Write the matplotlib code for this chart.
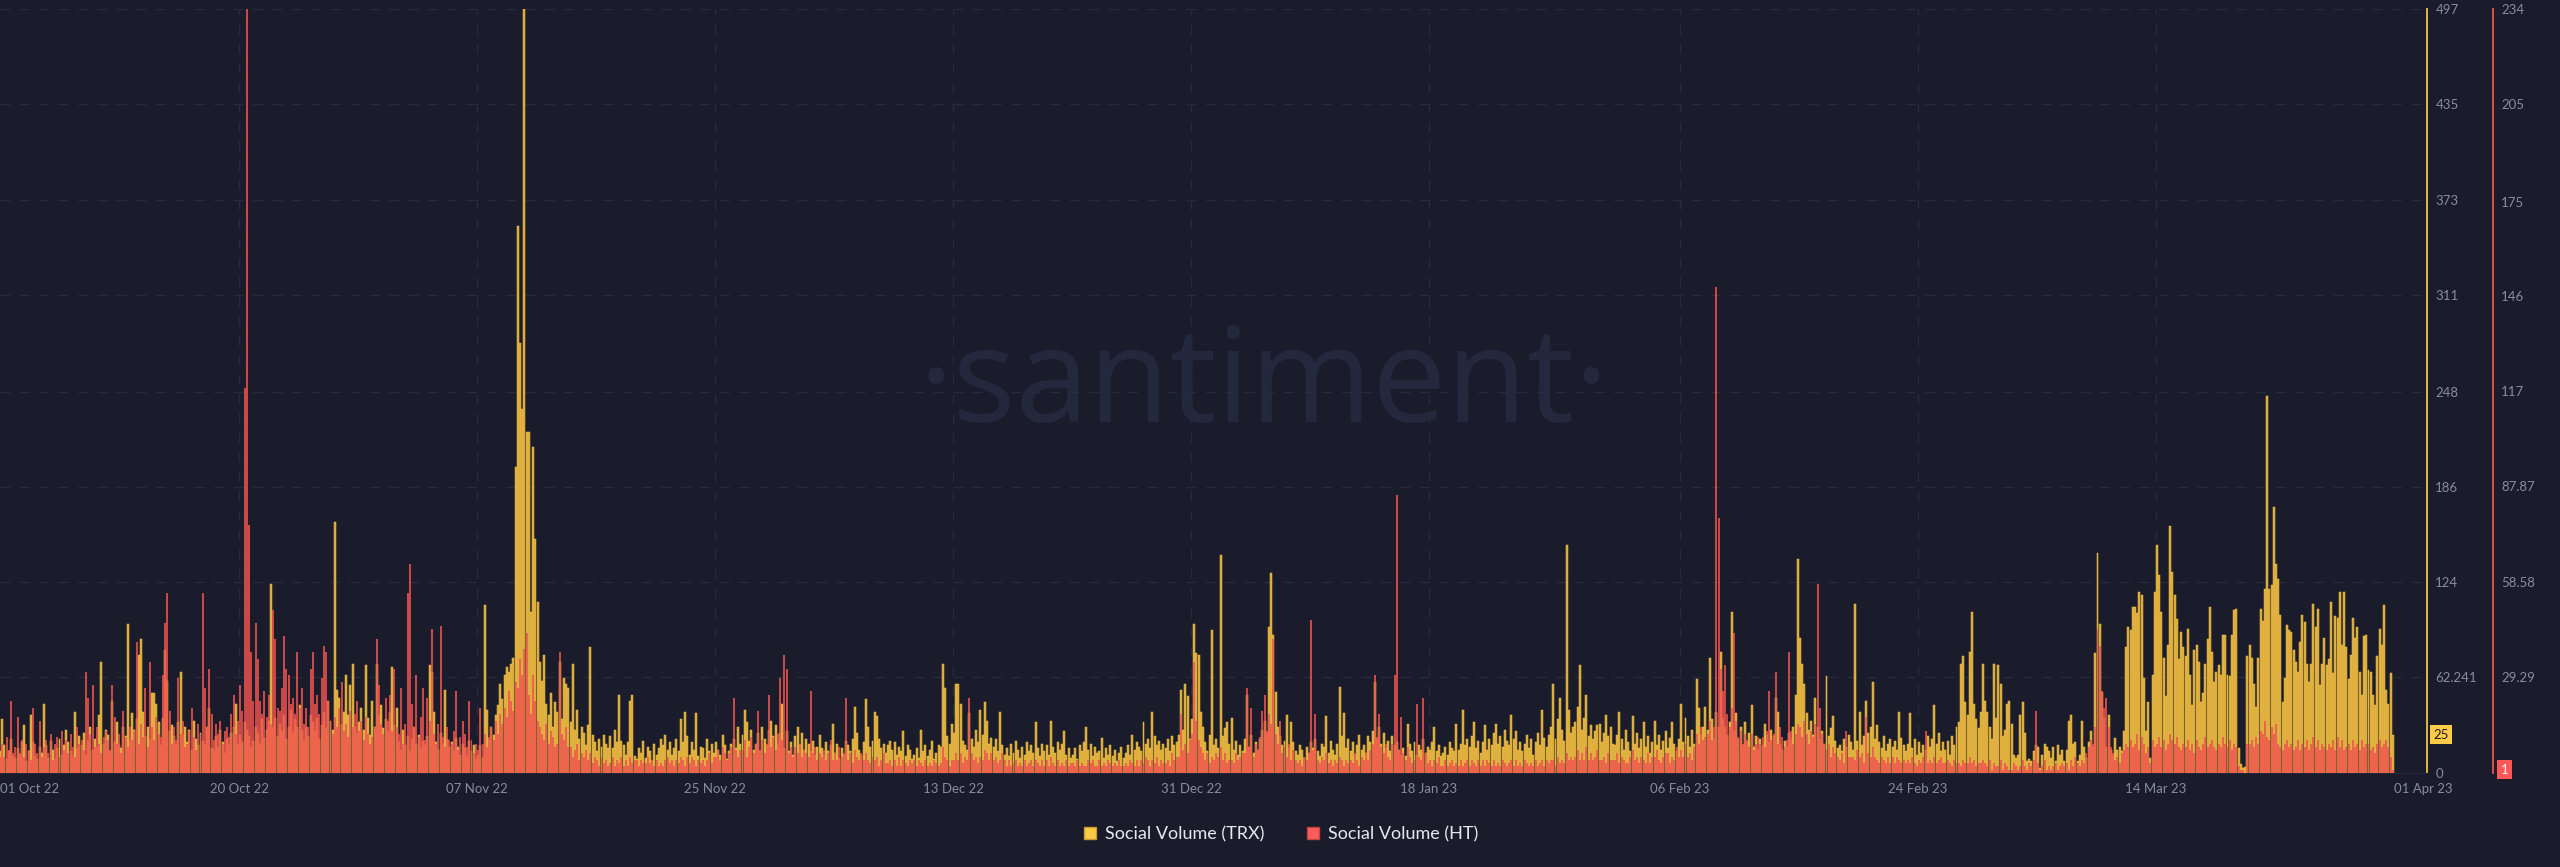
import numpy as np
import pandas as pd
import matplotlib
matplotlib.use("Agg")
import matplotlib.pyplot as plt
import matplotlib.dates as mdates
from matplotlib.lines import Line2D

# Social volume, 4-hour buckets, one row per day (6 values)
trx_oct = [
    12, 8, 15, 20, 10, 14,
    35, 18, 9, 14, 22, 11,
    10, 16, 12, 20, 31, 8,
    14, 38, 20, 11, 9, 17,
    13, 45, 18, 10, 21, 15,
    9, 16, 22, 12, 18, 28,
    20, 14, 11, 40, 16, 24,
    18, 26, 12, 21, 30, 15,
    22, 17, 38, 72, 19, 28,
    25, 14, 47, 20, 33, 18,
    16, 30, 24, 97, 21, 39,
    28, 35, 77, 87, 40, 24,
    30, 22, 52, 52, 45, 33,
    18, 36, 80, 60, 27, 31,
    24, 19, 33, 66, 25, 30,
    20, 28, 15, 34, 22, 18,
    26, 21, 19, 30, 42, 16,
    15, 24, 17, 28, 20, 13,
    22, 18, 26, 30, 45, 19,
    25, 20, 33, 28, 24, 17,
    21, 30, 26, 19, 35, 23,
    28, 34, 123, 30, 36, 24,
    32, 27, 38, 22, 30, 41,
    26, 35, 30, 44, 28, 21,
    30, 24, 38, 33, 27, 36,
    22, 31, 40, 29, 47, 34,
    28, 163, 54, 49, 32, 40,
    64, 38, 57, 71, 30, 26,
    33, 42, 28, 70, 36, 25,
    47, 30, 71, 38, 44, 29,
    35, 27, 40, 69, 31, 42,
]
trx_nov = [
    20, 15, 28, 18, 24, 14,
    22, 30, 19, 25, 16, 21,
    18, 24, 70, 66, 40, 20,
    15, 26, 19, 54, 22, 17,
    20, 14, 23, 17, 12, 19,
    16, 11, 21, 14, 18, 9,
    12, 18, 10, 109, 41, 22,
    30, 25, 38, 44, 58, 48,
    64, 69, 66, 71, 75, 199,
    356, 280, 237, 497, 222, 222,
    105, 212, 152, 111, 72, 60,
    77, 45, 38, 52, 30, 46,
    40, 72, 35, 62, 58, 55,
    33, 71, 28, 41, 22, 30,
    26, 18, 31, 82, 25, 20,
    14, 22, 17, 25, 19, 16,
    24, 16, 28, 20, 51, 21,
    18, 12, 20, 47, 51, 11,
    9, 16, 13, 21, 10, 17,
    14, 8, 19, 12, 16, 22,
    18, 25, 15, 20, 12, 16,
    22, 14, 35, 20, 40, 24,
    12, 20, 15, 39, 11, 17,
    16, 10, 22, 14, 19, 13,
    20, 15, 12, 25, 18, 9,
    14, 19, 22, 16, 30, 19,
    25, 41, 33, 21, 28, 15,
    19, 26, 14, 30, 22, 18,
    28, 34, 24, 31, 19, 26,
    45, 16, 27, 14, 20, 12,
]
trx_dec = [
    24, 30, 18, 26, 15, 22,
    19, 14, 21, 12, 17, 25,
    16, 11, 20, 14, 18, 32,
    13, 19, 10, 16, 12, 21,
    18, 14, 22, 43, 26, 15,
    12, 20, 48, 30, 17, 21,
    40, 37, 22, 16, 19, 13,
    18, 21, 15, 20, 12, 17,
    14, 27, 11, 18, 15, 9,
    12, 16, 10, 28, 14, 18,
    11, 15, 21, 9, 13, 18,
    17, 71, 55, 24, 19, 32,
    26, 58, 58, 45, 21, 18,
    15, 39, 22, 17, 28, 20,
    41, 25, 46, 34, 19, 23,
    17, 22, 14, 40, 18, 12,
    16, 11, 19, 13, 21, 15,
    10, 17, 12, 20, 14, 18,
    13, 33, 16, 11, 19, 14,
    18, 12, 34, 17, 13, 20,
    15, 19, 27, 12, 16, 10,
    12, 16, 9, 18, 14, 20,
    30, 15, 19, 11, 17, 13,
    14, 23, 10, 16, 12, 18,
    11, 15, 8, 13, 17, 10,
    13, 18, 12, 25, 15, 20,
    17, 14, 33, 19, 22, 16,
    40, 24, 18, 21, 15, 19,
    16, 22, 14, 24, 18, 20,
    25, 54, 28, 58, 50, 22,
    35, 97, 78, 77, 40, 30,
]
trx_jan = [
    20, 14, 25, 93, 18, 22,
    16, 142, 24, 29, 33, 19,
    36, 15, 21, 12, 18, 14,
    22, 51, 17, 25, 13, 20,
    15, 22, 28, 34, 26, 95,
    130, 90, 53, 30, 24, 18,
    21, 38, 16, 33, 20, 14,
    12, 18, 15, 10, 17, 13,
    20, 16, 22, 14, 11, 19,
    17, 37, 13, 21, 15, 12,
    19, 56, 24, 39, 16, 22,
    14, 20, 12, 18, 25, 15,
    18, 13, 24, 20, 27, 59,
    22, 30, 19, 26, 16, 21,
    14, 24, 18, 20, 15, 12,
    16, 11, 32, 19, 14, 20,
    12, 18, 15, 22, 13, 17,
    15, 20, 30, 14, 18, 11,
    13, 17, 12, 20, 16, 14,
    32, 15, 19, 41, 18, 22,
    17, 24, 33, 16, 21, 13,
    20, 31, 15, 22, 18, 26,
    32, 19, 24, 17, 28, 21,
    18, 38, 22, 27, 15, 20,
    14, 19, 25, 16, 22, 12,
    20, 26, 18, 41, 23, 17,
    25, 30, 58, 22, 35, 49,
    28, 21, 148, 41, 26, 30,
    33, 43, 70, 28, 36, 51,
    24, 31, 22, 27, 31, 32,
    20, 26, 38, 24, 30, 19,
]
trx_feb = [
    18, 25, 40, 22, 15, 28,
    20, 14, 37, 19, 26, 16,
    22, 33, 17, 24, 13, 20,
    34, 18, 25, 15, 21, 27,
    16, 23, 33, 19, 14, 22,
    45, 20, 36, 24, 17, 28,
    19, 61, 42, 25, 30, 43,
    28, 75, 35, 22, 40, 30,
    79, 36, 30, 25, 33, 105,
    27, 39, 22, 30, 18, 33,
    20, 26, 44, 17, 24, 15,
    22, 18, 32, 25, 20, 28,
    24, 49, 40, 19, 15, 21,
    17, 26, 22, 30, 51, 139,
    88, 71, 58, 39, 28, 34,
    25, 49, 30, 22, 27, 19,
    63, 24, 29, 37, 21, 16,
    18, 14, 22, 17, 25, 20,
    15, 110, 21, 40, 18, 24,
    47, 26, 30, 59, 22, 31,
    20, 16, 24, 14, 19, 22,
    17, 21, 15, 40, 23, 18,
    14, 19, 39, 16, 22, 12,
    20, 13, 18, 15, 24, 17,
    22, 44, 19, 26, 14, 20,
    15, 21, 12, 24, 18, 30,
    33, 71, 76, 46, 38, 79,
    105, 45, 35, 29, 40, 71,
]
trx_mar = [
    47, 40, 30, 22, 71, 36,
    70, 58, 24, 28, 45, 47,
    32, 12, 10, 12, 38, 46,
    26, 8, 9, 8, 14, 18,
    17, 3, 12, 19, 17, 14,
    10, 17, 8, 18, 12, 15,
    8, 15, 34, 38, 19, 20,
    8, 12, 34, 17, 10, 20,
    27, 17, 78, 143, 97, 53,
    36, 17, 38, 15, 12, 23,
    15, 17, 14, 27, 82, 95,
    93, 108, 108, 104, 118, 116,
    62, 27, 46, 10, 64, 118,
    148, 129, 105, 75, 50, 83,
    161, 131, 116, 100, 74, 92,
    82, 76, 94, 64, 44, 80,
    83, 72, 46, 52, 71, 87,
    108, 79, 59, 66, 70, 64,
    90, 90, 64, 63, 90, 106,
    107, 16, 6, 3, 4, 76,
    83, 75, 58, 43, 75, 107,
    99, 120, 245, 120, 122, 173,
    136, 126, 103, 46, 62, 96,
    93, 92, 80, 72, 66, 85,
    103, 98, 71, 59, 71, 110,
    95, 107, 57, 71, 88, 70,
    74, 111, 65, 102, 101, 118,
    83, 118, 82, 61, 77, 101,
    88, 95, 66, 51, 89, 90,
    67, 66, 51, 44, 76, 94,
    83, 109, 54, 45, 65, 25,
]

ht_oct = [
    6, 10, 4, 8, 12, 5,
    9, 5, 11, 7, 22, 6,
    8, 17, 6, 10, 5, 9,
    7, 4, 20, 9, 6, 16,
    5, 8, 10, 6, 12, 4,
    9, 11, 5, 13, 7, 10,
    6, 12, 8, 5, 14, 9,
    10, 7, 31, 23, 12, 27,
    8, 14, 9, 6, 11, 13,
    10, 7, 27, 17, 9, 12,
    6, 19, 11, 8, 14, 10,
    13, 40, 9, 15, 11, 26,
    8, 34, 14, 10, 17, 12,
    11, 30, 46, 55, 19, 9,
    14, 10, 29, 12, 16, 8,
    9, 13, 20, 11, 7, 15,
    12, 55, 26, 14, 32, 18,
    10, 15, 12, 16, 9, 13,
    14, 11, 18, 24, 12, 16,
    27, 19, 118, 234, 76, 37,
    22, 46, 35, 22, 18, 25,
    17, 24, 15, 50, 41, 20,
    19, 26, 42, 32, 30, 21,
    23, 18, 37, 20, 26, 15,
    20, 14, 32, 37, 21, 24,
    18, 29, 39, 37, 22, 16,
    12, 17, 14, 20, 28, 13,
    15, 11, 19, 14, 18, 22,
    13, 16, 10, 17, 12, 9,
    11, 14, 41, 27, 15, 12,
    23, 16, 24, 13, 32, 14,
]
ht_nov = [
    12, 26, 9, 15, 55, 64,
    21, 14, 30, 11, 17, 26,
    10, 23, 16, 44, 12, 9,
    15, 45, 11, 8, 14, 10,
    9, 13, 25, 7, 11, 16,
    12, 8, 22, 10, 6, 9,
    7, 20, 9, 12, 8, 11,
    14, 10, 16, 12, 18, 15,
    20, 17, 25, 22, 19, 28,
    26, 35, 30, 38, 43, 24,
    18, 30, 22, 16, 14, 12,
    10, 15, 9, 13, 11, 8,
    9, 37, 12, 10, 14, 8,
    8, 5, 7, 9, 4, 6,
    5, 7, 4, 6, 3, 5,
    4, 2, 5, 3, 4, 2,
    3, 5, 2, 4, 3, 5,
    2, 4, 2, 5, 3, 4,
    4, 2, 4, 3, 3, 5,
    3, 4, 2, 4, 2, 3,
    2, 4, 5, 3, 4, 2,
    4, 3, 5, 4, 2, 5,
    3, 5, 4, 2, 4, 3,
    4, 2, 4, 6, 3, 5,
    5, 7, 4, 8, 6, 4,
    6, 8, 23, 7, 5, 7,
    7, 10, 5, 8, 11, 6,
    9, 19, 7, 10, 6, 9,
    24, 8, 11, 7, 12, 29,
    10, 36, 32, 6, 8, 5,
]
ht_dec = [
    8, 6, 9, 5, 7, 6,
    5, 25, 6, 8, 4, 6,
    5, 7, 4, 6, 10, 4,
    6, 4, 8, 5, 6, 23,
    4, 6, 3, 7, 5, 4,
    6, 4, 6, 4, 3, 5,
    4, 5, 2, 4, 6, 3,
    3, 4, 2, 4, 2, 5,
    2, 4, 3, 2, 4, 3,
    4, 2, 4, 3, 2, 4,
    2, 3, 2, 4, 3, 2,
    3, 8, 5, 4, 2, 4,
    4, 6, 4, 6, 3, 5,
    4, 23, 6, 4, 5, 3,
    5, 4, 7, 6, 4, 6,
    4, 5, 3, 4, 6, 4,
    2, 4, 2, 3, 4, 2,
    3, 2, 4, 2, 3, 4,
    2, 4, 3, 2, 4, 2,
    4, 2, 5, 3, 2, 4,
    2, 3, 2, 4, 2, 3,
    3, 2, 4, 2, 3, 2,
    2, 4, 3, 4, 2, 2,
    4, 2, 3, 2, 4, 3,
    2, 3, 2, 4, 2, 2,
    3, 2, 4, 3, 2, 4,
    2, 4, 3, 5, 4, 2,
    4, 3, 5, 2, 4, 3,
    3, 4, 2, 6, 4, 5,
    5, 18, 7, 9, 6, 10,
    12, 34, 16, 10, 8, 6,
]
ht_jan = [
    4, 6, 3, 5, 4, 6,
    5, 8, 4, 6, 3, 4,
    4, 3, 6, 4, 5, 6,
    6, 26, 8, 20, 5, 9,
    7, 11, 19, 24, 13, 18,
    15, 41, 12, 9, 16, 6,
    8, 5, 9, 4, 7, 4,
    3, 4, 2, 5, 4, 6,
    47, 7, 18, 4, 3, 5,
    4, 6, 3, 4, 2, 4,
    3, 5, 4, 2, 4, 3,
    4, 3, 6, 4, 2, 5,
    4, 6, 4, 7, 9, 30,
    11, 18, 8, 6, 9, 5,
    4, 9, 30, 85, 7, 17,
    6, 4, 8, 5, 3, 4,
    21, 5, 4, 23, 6, 3,
    4, 2, 4, 3, 5, 2,
    2, 4, 2, 3, 4, 2,
    3, 2, 4, 2, 3, 4,
    2, 4, 3, 2, 4, 2,
    4, 2, 4, 3, 2, 4,
    2, 3, 2, 4, 3, 2,
    3, 4, 2, 4, 2, 3,
    2, 4, 3, 2, 3, 2,
    4, 2, 3, 4, 2, 4,
    3, 4, 4, 2, 5, 3,
    4, 3, 6, 4, 5, 4,
    5, 7, 4, 6, 4, 8,
    4, 6, 4, 5, 7, 4,
    4, 5, 3, 6, 4, 4,
]
ht_feb = [
    4, 6, 3, 5, 4, 3,
    3, 5, 7, 4, 5, 3,
    5, 4, 3, 6, 3, 5,
    5, 7, 4, 3, 5, 6,
    6, 3, 5, 4, 8, 5,
    7, 5, 9, 5, 6, 4,
    8, 12, 9, 14, 10, 11,
    12, 16, 10, 14, 149, 78,
    32, 25, 33, 18, 14, 20,
    43, 16, 11, 13, 9, 12,
    10, 8, 12, 7, 9, 11,
    9, 11, 8, 13, 25, 10,
    12, 31, 9, 14, 11, 8,
    10, 37, 13, 9, 12, 15,
    14, 11, 16, 12, 9, 13,
    11, 15, 58, 20, 12, 9,
    7, 9, 5, 8, 6, 5,
    4, 6, 3, 13, 5, 5,
    5, 4, 7, 5, 6, 3,
    17, 6, 5, 8, 5, 4,
    3, 5, 4, 3, 5, 3,
    5, 3, 5, 4, 3, 4,
    3, 4, 3, 5, 3, 2,
    4, 3, 5, 13, 3, 4,
    3, 5, 3, 4, 5, 3,
    3, 4, 3, 2, 4, 3,
    3, 2, 4, 3, 3, 5,
    3, 4, 2, 3, 3, 4,
]
ht_mar = [
    3, 2, 4, 1, 3, 2,
    2, 4, 1, 3, 2, 1,
    1, 3, 2, 1, 2, 4,
    2, 1, 3, 2, 4, 19,
    3, 1, 2, 4, 1, 2,
    1, 2, 3, 1, 2, 3,
    2, 3, 1, 4, 2, 5,
    3, 2, 4, 3, 6, 8,
    10, 9, 14, 44, 39, 25,
    20, 23, 14, 8, 6, 4,
    5, 3, 6, 7, 9, 8,
    10, 8, 9, 12, 7, 11,
    9, 6, 8, 3, 10, 8,
    9, 11, 8, 10, 7, 9,
    12, 10, 9, 11, 8, 7,
    9, 8, 10, 7, 9, 6,
    10, 8, 7, 9, 11, 8,
    9, 10, 8, 7, 9, 8,
    11, 9, 8, 10, 7, 9,
    8, 2, 1, 1, 0, 9,
    9, 10, 8, 11, 9, 13,
    12, 16, 11, 10, 14, 12,
    15, 9, 8, 7, 9, 10,
    8, 9, 7, 8, 10, 7,
    9, 8, 10, 7, 9, 11,
    8, 10, 7, 9, 8, 7,
    9, 8, 10, 7, 11, 8,
    10, 7, 8, 9, 7, 10,
    8, 9, 7, 10, 8, 9,
    9, 7, 8, 6, 9, 10,
    8, 9, 10, 8, 5, 1,
]

trx_ticks = [0, 62.241, 124, 186, 248, 311, 373, 435, 497]
ht_ticks = [29.29, 58.58, 87.87, 117, 146, 175, 205, 234]
date_labels = ["01 Oct 22", "20 Oct 22", "07 Nov 22", "25 Nov 22", "13 Dec 22",
               "31 Dec 22", "18 Jan 23", "06 Feb 23", "24 Feb 23", "14 Mar 23", "01 Apr 23"]

trx = np.array(trx_oct + trx_nov + trx_dec + trx_jan + trx_feb + trx_mar)
ht = np.array(ht_oct + ht_nov + ht_dec + ht_jan + ht_feb + ht_mar)
start = pd.Timestamp("2022-10-01")
x_trx = mdates.date2num(start + pd.to_timedelta(np.arange(len(trx)) * 4, unit="h"))
x_ht = mdates.date2num(start + pd.to_timedelta(np.arange(len(ht)) * 4, unit="h"))

plt.rcParams["font.family"] = ["Lato", "DejaVu Sans"]
bg = "#1a1c2c"
grid_c = "#272b3f"
tick_c = "#878ca1"
yellow = "#f5c33f"
red = "#f0544f"

fig = plt.figure(figsize=(25.6, 8.67), dpi=100, facecolor=bg)
ax = fig.add_axes([0, 94 / 867, 2427 / 2560, 764 / 867])
ax.set_facecolor(bg)
ax2 = ax.twinx()

bw = 4 / 24
ax.bar(x_trx, trx, width=bw * 0.9, align="edge", color="#d6a83e",
       edgecolor=yellow, linewidth=0.35, zorder=3)
ax2.bar(x_ht, ht, width=bw * 0.9, align="edge", color=red, alpha=0.82,
        linewidth=0, zorder=3)

x0 = mdates.date2num(start)
ax.set_xlim(x0 + 0.908, x0 + 184.5)
ax.set_ylim(0, 497)
ax2.set_ylim(0, 234)

# watermark
ax.text(1264 / 2560, (867 - 422) / 867, "·santiment·", transform=fig.transFigure,
        ha="center", va="baseline", fontsize=95, color="#24283d",
        family=["Open Sans", "DejaVu Sans"], fontweight="normal", zorder=1)

# y axes on the right
ax.yaxis.tick_right()
ax.set_yticks(trx_ticks)
ax.set_yticklabels([f"{v:g}" for v in trx_ticks])
ax2.set_yticks(ht_ticks)
ax2.set_yticklabels([f"{v:g}" for v in ht_ticks])
ax.tick_params(axis="y", length=0, pad=6, labelcolor=tick_c, labelsize=9.5)
ax2.tick_params(axis="y", length=0, pad=6, labelcolor=tick_c, labelsize=9.5)
ax.grid(axis="y", color=grid_c, linestyle=(0, (7, 7)), linewidth=1.0, zorder=0)

for a in (ax, ax2):
    for s in ("top", "left"):
        a.spines[s].set_visible(False)
ax2.spines["bottom"].set_visible(False)
ax.spines["bottom"].set_color("#23263a")
ax.spines["right"].set_color(yellow)
ax.spines["right"].set_linewidth(1.3)
ax2.spines["right"].set_color(red)
ax2.spines["right"].set_linewidth(1.3)
ax2.spines["right"].set_position(("outward", 47.5))

# date ticks
tick_pos = [mdates.date2num(pd.to_datetime(d, format="%d %b %y")) for d in date_labels]
tick_pos[0] = max(tick_pos[0], ax.get_xlim()[0])
ax.set_xticks(tick_pos)
ax.set_xticklabels(date_labels)
ax.tick_params(axis="x", length=0, pad=7, labelcolor=tick_c, labelsize=9.5)
xl = ax.get_xticklabels()
xl[0].set_ha("left")
xl[-1].set_ha("left")
for p in tick_pos[1:-1]:
    ax.axvline(p, color=grid_c, linestyle=(0, (7, 7)), linewidth=1.0, zorder=0)

# last value markers
ax.annotate(f"{trx[-1]:g}", xy=(1, trx[-1]), xycoords=ax.get_yaxis_transform(),
            xytext=(4.5, 0), textcoords="offset points", ha="left", va="center",
            fontsize=9.5, color=bg, annotation_clip=False,
            bbox=dict(boxstyle="square,pad=0.25", fc="#ffcb47", ec="none"))
ax2.annotate(f"{ht[-1]:g}", xy=(1, ht[-1]), xycoords=ax2.get_yaxis_transform(),
             xytext=(53, 0), textcoords="offset points", ha="left", va="center",
             fontsize=9.5, color="white", annotation_clip=False,
             bbox=dict(boxstyle="square,pad=0.25", fc="#ff5656", ec="none"))

handles = [
    Line2D([], [], marker="s", linestyle="none", markersize=9,
           markerfacecolor="#ffcb47", markeredgecolor="#c99a2e", label="Social Volume (TRX)"),
    Line2D([], [], marker="s", linestyle="none", markersize=9,
           markerfacecolor="#ff5c5c", markeredgecolor="#c04444", label="Social Volume (HT)"),
]
fig.legend(handles=handles, loc="center", bbox_to_anchor=(0.5, 33 / 867), ncol=2,
           frameon=False, fontsize=13, labelcolor="#e6e8f0", handlelength=0.9,
           handletextpad=0.4, columnspacing=2.2)

fig.savefig("out.png", dpi=100, facecolor=bg)
